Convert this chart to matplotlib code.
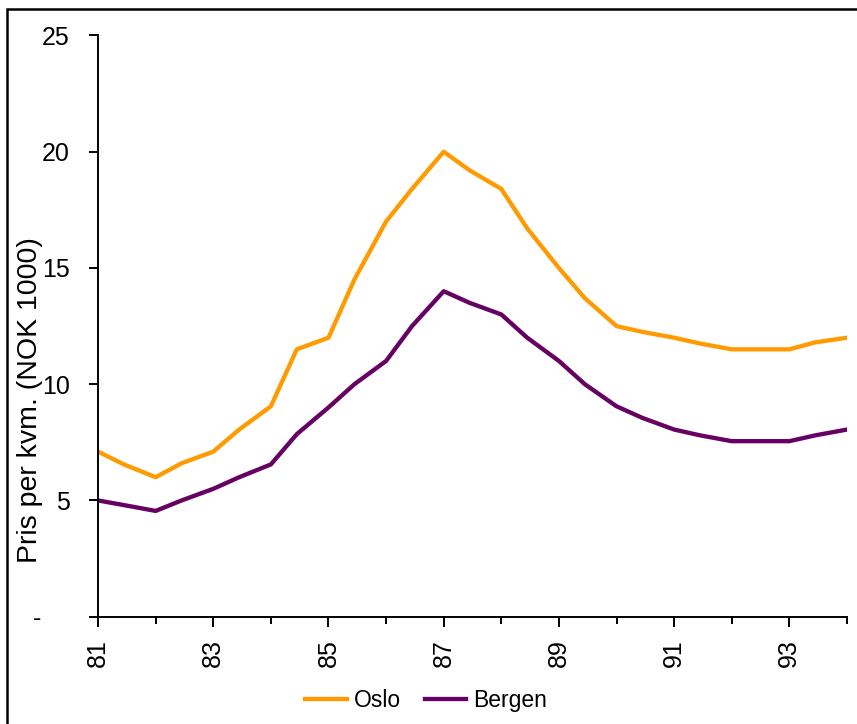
import matplotlib
matplotlib.use("Agg")
import matplotlib.pyplot as plt
from matplotlib.patches import Rectangle
from matplotlib.ticker import FixedLocator

# ── data ─────────────────────────────────────────────────────────────────────
periods = [81, 81.45, 82, 82.45, 83, 83.45, 84, 84.45, 85, 85.45, 86, 86.45,
           87, 87.45, 88, 88.45, 89, 89.45, 90, 90.45, 91, 91.45, 92, 92.45,
           93, 93.45, 94]
oslo = [7.1, 6.55, 6.0, 6.6, 7.1, 8.05, 9.05, 11.5, 12.0, 14.5, 17.0, 18.4,
        20.0, 19.2, 18.4, 16.7, 15.0, 13.7, 12.5, 12.25, 12.0, 11.75, 11.5, 11.5,
        11.5, 11.8, 12.0]
bergen = [5.0, 4.8, 4.55, 5.0, 5.5, 6.0, 6.55, 7.85, 9.0, 10.0, 11.0, 12.5,
          14.0, 13.5, 13.0, 12.0, 11.0, 10.0, 9.05, 8.55, 8.05, 7.8, 7.55, 7.55,
          7.55, 7.8, 8.05]
x_labels = [81, 83, 85, 87, 89, 91, 93]
x_minor = [82, 84, 86, 88, 90, 92, 94]
y_ticks = [0, 5, 10, 15, 20, 25]
y_labels = ["-    ", "5", "10", "15", "20", "25"]

plt.rcParams["font.family"] = ["Liberation Sans", "DejaVu Sans"]

fig = plt.figure(figsize=(8.57, 7.24), dpi=100)
ax = fig.add_axes([0.1144, 0.1482, 0.8739, 0.8028])

ax.plot(periods, oslo, color="#FF9B00", lw=3.1, label="Oslo")
ax.plot(periods, bergen, color="#660062", lw=3.1, label="Bergen")

ax.set_xlim(81, 94)
ax.set_ylim(0, 25)

ax.xaxis.set_major_locator(FixedLocator(x_labels))
ax.xaxis.set_minor_locator(FixedLocator(x_minor))
ax.set_xticklabels([str(v) for v in x_labels], rotation=90)
ax.set_yticks(y_ticks)
ax.set_yticklabels(y_labels)

ax.tick_params(axis="x", which="major", direction="out", length=7.2, width=1.4,
               pad=9, labelsize=18)
ax.tick_params(axis="x", which="minor", direction="out", length=5, width=1.4)
ax.tick_params(axis="y", direction="out", length=6.5, width=1.4, pad=14,
               labelsize=18)

for side in ["top", "right"]:
    ax.spines[side].set_visible(False)
for side in ["left", "bottom"]:
    ax.spines[side].set_linewidth(1.4)

ax.set_ylabel("Pris per kvm. (NOK 1000)", fontsize=20.5)
ax.yaxis.set_label_coords(-0.073, 0.373)

fig.legend(loc="center", bbox_to_anchor=(0.497, 0.033), ncol=2, frameon=False,
           fontsize=16.5, handlelength=1.8, handletextpad=0.3, columnspacing=1.05)

# outer chart frame (left and top edges visible in the reference)
fig.patches.append(Rectangle((7 / 857, -0.1), 1.2, 1 - 9 / 724 + 0.1,
                             transform=fig.transFigure, fill=False,
                             edgecolor="black", lw=1.8))

fig.savefig("out.png", dpi=100)
